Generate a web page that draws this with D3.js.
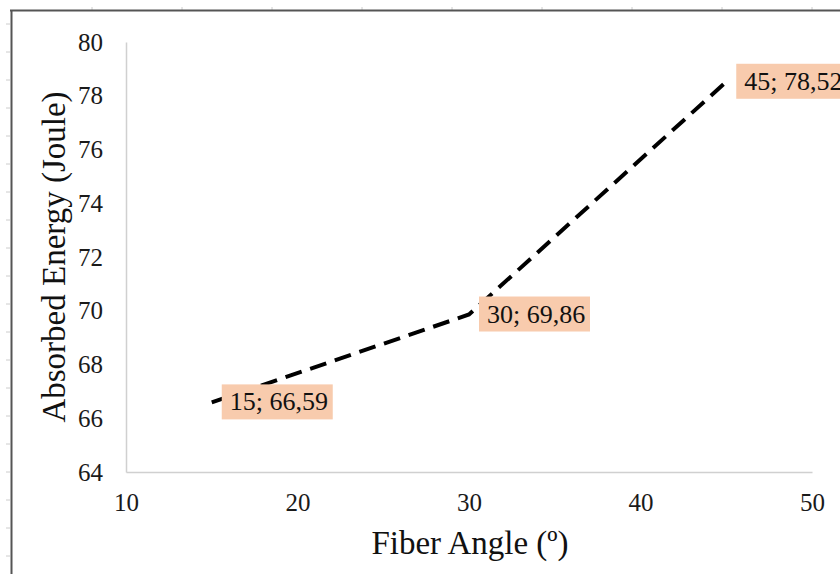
<!DOCTYPE html>
<html><head><meta charset="utf-8">
<script src="https://cdn.jsdelivr.net/npm/d3@7"></script>
<style>html,body{margin:0;padding:0;background:#fff;overflow:hidden}</style>
</head><body>
<svg id="c" width="840" height="574"></svg>
<script>
const angles = [15, 30, 45];
const energy = [66.59, 69.86, 78.52];
const pointLabels = ["15; 66,59", "30; 69,86", "45; 78,52"];
const xTicks = [10, 20, 30, 40, 50];
const yTicks = [64, 66, 68, 70, 72, 74, 76, 78, 80];
const xTitle = "Fiber Angle (º)";
const yTitle = "Absorbed Energy (Joule)";

const svg = d3.select("#c");
const font = "'Liberation Serif','Times New Roman',serif";

// page frame (ruler-like)
const rulerTop = d3.range(92, 840, 90);
const rulerLeft = d3.range(24, 574, 28);
svg.selectAll(".rt").data(rulerTop).enter().append("line")
  .attr("x1", d => d).attr("x2", d => d).attr("y1", 7).attr("y2", 10)
  .attr("stroke", "#ccc").attr("stroke-width", 1);
svg.selectAll(".rl").data(rulerLeft).enter().append("line")
  .attr("x1", 6).attr("x2", 10).attr("y1", d => d).attr("y2", d => d)
  .attr("stroke", "#ccc").attr("stroke-width", 1);
svg.append("line").attr("x1", 10).attr("x2", 840).attr("y1", 10.5).attr("y2", 10.5)
  .attr("stroke", "#555").attr("stroke-width", 2);
svg.append("line").attr("x1", 11.5).attr("x2", 11.5).attr("y1", 10).attr("y2", 574)
  .attr("stroke", "#555").attr("stroke-width", 2);

const x = d3.scaleLinear().domain([10, 50]).range([126, 812]);
const y = d3.scaleLinear().domain([64, 80]).range([472, 42]);

// axes
const xAxis = svg.append("g").attr("transform", "translate(0,472)")
  .call(d3.axisBottom(x).tickValues(xTicks).tickSize(0).tickPadding(39).tickFormat(d3.format("d")));
const yAxis = svg.append("g").attr("transform", "translate(126,0)")
  .call(d3.axisLeft(y).tickValues(yTicks).tickSize(0).tickPadding(23).tickFormat(d3.format("d")));
[xAxis, yAxis].forEach(g => {
  g.select(".domain").attr("stroke", "#d0d0d0").attr("stroke-width", 1.5);
  g.selectAll("text").attr("font-family", font).attr("font-size", 25).attr("fill", "#1a1a1a");
});
xAxis.selectAll("text").attr("dy", 0);

// line
const line = d3.line().x((d, i) => x(angles[i])).y(d => y(d));
svg.append("path").datum(energy).attr("d", line)
  .attr("fill", "none").attr("stroke", "#000").attr("stroke-width", 4)
  .attr("stroke-dasharray", "17,9");

// data labels
const lab = svg.selectAll(".lab").data(energy).enter().append("g")
  .attr("transform", (d, i) => `translate(${x(angles[i]) + 10},${y(d)})`);
lab.append("rect").attr("x", 0).attr("y", -18).attr("width", 111).attr("height", 35)
  .attr("fill", "#F8CBAD");
lab.append("text").attr("x", 8).attr("y", 8).text((d, i) => pointLabels[i])
  .attr("font-family", font).attr("font-size", 26).attr("fill", "#111");

// titles
svg.append("text").attr("x", 470).attr("y", 554).attr("text-anchor", "middle")
  .attr("font-family", font).attr("font-size", 33).attr("fill", "#111").text(xTitle);
svg.append("text").attr("transform", "translate(65,257) rotate(-90)").attr("text-anchor", "middle")
  .attr("font-family", font).attr("font-size", 33).attr("fill", "#111").text(yTitle);
</script>
</body></html>
